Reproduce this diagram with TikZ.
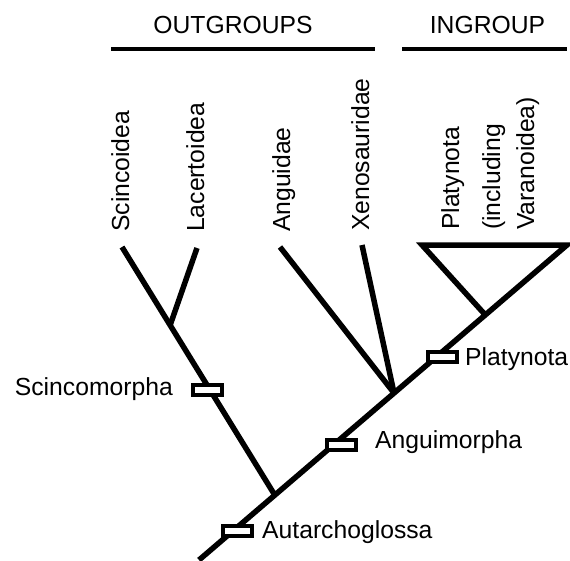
\documentclass[tikz,border=0pt]{standalone}
\usepackage{fontspec}
\setmainfont{Liberation Sans}
\usetikzlibrary{calc}
\begin{document}
\begin{tikzpicture}[x=1pt,y=-1pt,
  txt/.style={inner sep=0pt, font=\fontsize{24.7}{30}\selectfont},
  branch/.style={line width=5.5pt, line join=miter},
  rulebar/.style={line width=4.5pt},
  synapo/.style={draw, line width=4pt, fill=white, rectangle,
    minimum width=29pt, minimum height=10pt, inner sep=0pt},
  taxon/.style={txt, rotate=90, anchor=base west},
  clade/.style={txt, anchor=base west}]
\useasboundingbox (0,0) rectangle (570,560);

% group headings and their rules
\node[txt, anchor=base] (outg) at (233,33) {OUTGROUPS};
\node[txt, anchor=base] (ing) at (487.5,33) {INGROUP};
\coordinate (ol) at (111,49);
\coordinate (or) at (375,49);
\coordinate (il) at (402,49);
\coordinate (ir) at (567,49);
\draw[rulebar] (ol) -- (or);
\draw[rulebar] (il) -- (ir);

% terminal taxa
\node[taxon] (scinc) at (129,232) {Scincoidea};
\node[taxon] (lacer) at (204,232) {Lacertoidea};
\node[taxon] (angu) at (290,232) {Anguidae};
\node[taxon] (xeno) at (369,231) {Xenosauridae};
\node[taxon] (plat1) at (459,230) {Platynota};
\node[taxon] (plat2) at (500,230) {(including};
\node[taxon] (plat3) at (534,230) {Varanoidea)};

% tree skeleton
\coordinate (root) at (199,560);
\coordinate (tip) at (567,245);
\coordinate (tl) at (422,245);
\coordinate (jS) at ($(root)!0.206!(tip)$);
\coordinate (jA) at ($(root)!0.53!(tip)$);
\coordinate (jP) at ($(root)!0.778!(tip)$);
\coordinate (tScinc) at (122,247);
\coordinate (tLacer) at (197,248);
\coordinate (nS) at ($(jS)!0.685!(tScinc)$);
\coordinate (tAngu) at (280,247);
\coordinate (tXeno) at (362,245);

\draw[branch] (root) -- (tip) -- (tl) -- (jP);
\draw[branch] (jS) -- (tScinc);
\draw[branch] (nS) -- (tLacer);
\draw[branch] (jA) -- (tAngu);
\draw[branch] (jA) -- (tXeno);

% synapomorphy bars
\node[synapo] (bAut) at (237,531) {};
\node[synapo] (bAng) at (341,445) {};
\node[synapo] (bPla) at (442,357) {};
\node[synapo] (bSci) at (207,390) {};

% clade names
\node[clade] (lAut) at (262,538) {Autarchoglossa};
\node[clade] (lAng) at (375,448) {Anguimorpha};
\node[clade] (lPla) at (465,365) {Platynota};
\node[txt, anchor=base east] (lSci) at (173,395) {Scincomorpha};
\end{tikzpicture}
\end{document}
